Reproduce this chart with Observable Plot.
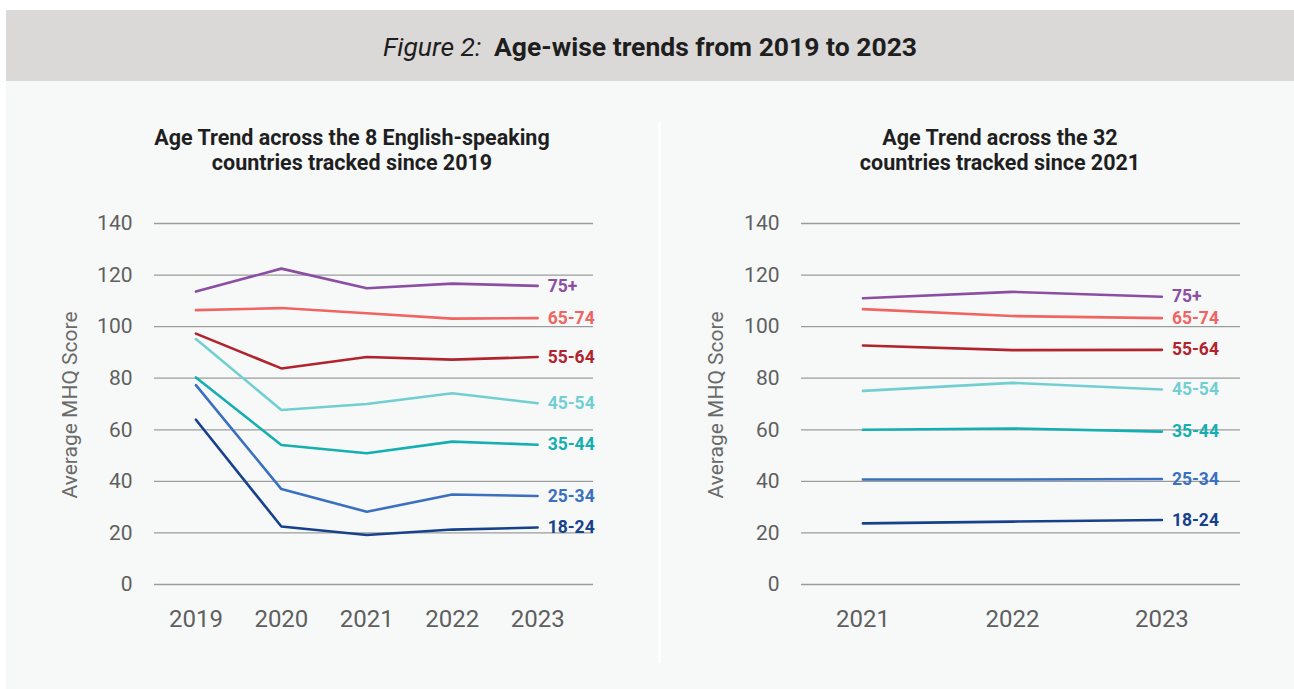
<!DOCTYPE html>
<html><head><meta charset="utf-8">
<script src="https://cdn.jsdelivr.net/npm/d3@7"></script>
<script src="https://cdn.jsdelivr.net/npm/@observablehq/plot@0.6"></script>
<style>
body{margin:0;background:#fff;font-family:Roboto,sans-serif;width:1294px;height:689px;position:relative;overflow:hidden}
#header{position:absolute;left:6px;top:10px;width:1288px;height:71px;background:#dbd9d7;color:#1e1e1e;font-size:26.5px;text-align:center;line-height:73px}
#header i{font-weight:400;margin-right:6px}
#header b{font-weight:700}
#bg{position:absolute;left:6px;top:81px;width:1288px;height:608px;background:#f7f9f9}
#sep{position:absolute;left:658px;top:123px;width:3px;height:540px;background:#ffffff}
.sub{position:absolute;width:560px;text-align:center;font-weight:700;font-size:21.5px;line-height:25px;color:#1f1f1f}
.ylab{position:absolute;width:300px;text-align:center;font-size:21px;color:#6a6a6a;transform:rotate(-90deg);transform-origin:center center;line-height:22px}
.chart{position:absolute;top:200px}
</style></head>
<body>
<div id="header"><i>Figure 2:</i> <b>Age-wise trends from 2019 to 2023</b></div>
<div id="bg"></div>
<div id="sep"></div>
<div class="sub" style="left:72px;top:125px">Age Trend across the 8 English-speaking<br>countries tracked since 2019</div>
<div class="sub" style="left:720px;top:125px">Age Trend across the 32<br>countries tracked since 2021</div>
<div class="ylab" style="left:-80px;top:394px">Average MHQ Score</div>
<div class="ylab" style="left:566px;top:394px">Average MHQ Score</div>
<div id="left" class="chart" style="left:0px"></div>
<div id="right" class="chart" style="left:660px"></div>
<script>
const ages = ["75+", "65-74", "55-64", "45-54", "35-44", "25-34", "18-24"];
const ageColors = ["#8b4ea3", "#f06462", "#b1232d", "#72cfd1", "#15afb1", "#3a70bf", "#17418b"];
const yTicks = [0, 20, 40, 60, 80, 100, 120, 140];

// Left: 8 English-speaking countries, 2019-2023
const yearsLeft = [2019, 2020, 2021, 2022, 2023];
const left_75plus = [113.6, 122.5, 114.9, 116.7, 115.8];
const left_65_74 = [106.4, 107.2, 105.2, 103.1, 103.3];
const left_55_64 = [97.3, 83.8, 88.2, 87.2, 88.2];
const left_45_54 = [95.2, 67.7, 70.0, 74.2, 70.3];
const left_35_44 = [80.3, 54.1, 50.9, 55.4, 54.2];
const left_25_34 = [77.3, 37.0, 28.2, 34.9, 34.3];
const left_18_24 = [63.9, 22.5, 19.2, 21.3, 22.1];

// Right: 32 countries, 2021-2023
const yearsRight = [2021, 2022, 2023];
const right_75plus = [111.0, 113.5, 111.6];
const right_65_74 = [106.8, 104.1, 103.3];
const right_55_64 = [92.7, 90.9, 91.0];
const right_45_54 = [75.1, 78.2, 75.6];
const right_35_44 = [60.0, 60.5, 59.3];
const right_25_34 = [40.7, 40.7, 40.9];
const right_18_24 = [23.7, 24.4, 25.0];

function toRows(years, seriesList) {
  const rows = [];
  seriesList.forEach((vals, i) => vals.forEach((v, j) => rows.push({age: ages[i], year: years[j], value: v})));
  return rows;
}

function chart(years, seriesList, opts) {
  const data = toRows(years, seriesList);
  const last = years[years.length - 1];
  return Plot.plot({
    width: opts.width,
    height: 460,
    marginLeft: opts.marginLeft,
    marginRight: opts.marginRight,
    marginTop: 23,
    marginBottom: 76,
    style: {background: "transparent", overflow: "visible", fontFamily: "Roboto, sans-serif"},
    x: {type: "linear", domain: opts.xDomain},
    y: {domain: [0, 140]},
    color: {domain: ages, range: ageColors},
    marks: [
      Plot.ruleY(yTicks, {stroke: "#9b9b9b", strokeWidth: 1.3}),
      Plot.line(data, {x: "year", y: "value", z: "age", stroke: "age", strokeWidth: 2.6}),
      Plot.text(data.filter(d => d.year === last), {x: "year", y: "value", text: "age", fill: "age", dx: 10, textAnchor: "start", fontWeight: "bold", fontSize: 17.5}),
      Plot.axisX({ticks: years, tickFormat: "d", tickSize: 0, tickPadding: 25, fontSize: 24, color: "#5f5f5f", label: null}),
      Plot.axisY({ticks: yTicks, tickSize: 0, tickPadding: 22, fontSize: 21, color: "#5f5f5f", label: null})
    ]
  });
}

document.getElementById("left").append(chart(yearsLeft,
  [left_75plus, left_65_74, left_55_64, left_45_54, left_35_44, left_25_34, left_18_24],
  {width: 658, marginLeft: 154, marginRight: 65, xDomain: [2018.515, 2023.654]}));

document.getElementById("right").append(chart(yearsRight,
  [right_75plus, right_65_74, right_55_64, right_45_54, right_35_44, right_25_34, right_18_24],
  {width: 634, marginLeft: 141, marginRight: 54, xDomain: [2020.589, 2023.526]}));
</script>
</body></html>
